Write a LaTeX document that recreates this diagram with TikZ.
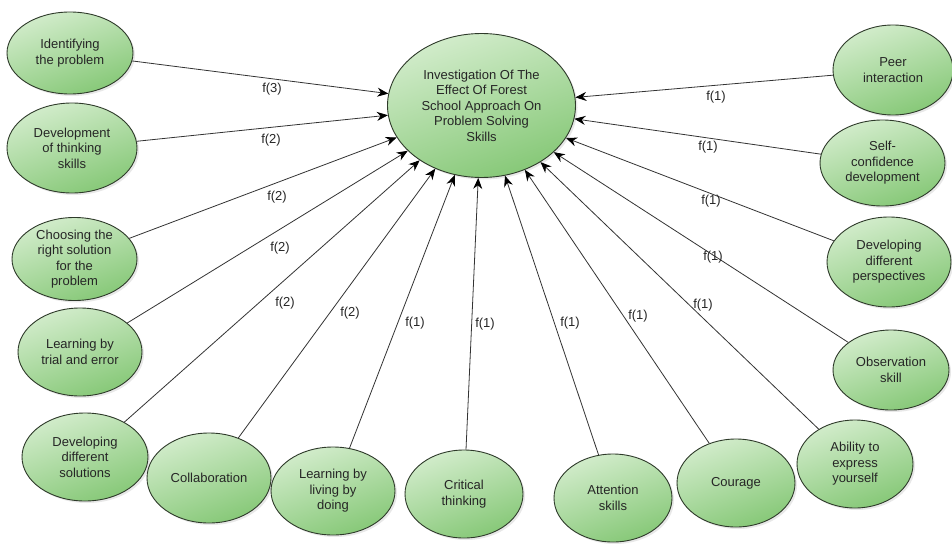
\documentclass[tikz,border=0pt]{standalone}
\usepackage{fontspec}
\setmainfont{Liberation Sans}
\usetikzlibrary{shapes.geometric,arrows.meta,shadows}
\definecolor{nodelight}{HTML}{D2ECCB}
\definecolor{nodedark}{HTML}{86C877}
\definecolor{nodeline}{HTML}{2E3A2A}
\definecolor{edgecol}{HTML}{333333}
\tikzset{
  bub/.style={ellipse, draw=nodeline, line width=0.9pt, inner sep=0pt,
    top color=nodelight, bottom color=nodedark, shading angle=20,
    drop shadow={shadow xshift=2pt, shadow yshift=-2pt, opacity=0.18},
    align=center, font=\fontsize{13}{15.5}\selectfont, text=black!85},
  edge/.style={draw=edgecol, line width=0.8pt, -{Stealth[length=11pt,width=9pt,color=black]}},
  lab/.style={font=\fontsize{13}{15}\selectfont, text=black!85, inner sep=0pt}
}
\begin{document}
\begin{tikzpicture}[x=1pt,y=-1pt]
\fill[white] (0,0) rectangle (952,543);
\useasboundingbox (0,0) rectangle (952,543);
% center
\node[bub, minimum width=188pt, minimum height=144pt] (c) at (481.5,105.5)
  {Investigation Of The\\Effect Of Forest\\School Approach On\\Problem Solving\\Skills};
% left
\node[bub, minimum width=126pt, minimum height=82pt] (n1) at (70,53) {Identifying\\the problem};
\node[bub, minimum width=130pt, minimum height=90pt] (n2) at (72,148) {Development\\of thinking\\skills};
\node[bub, minimum width=125pt, minimum height=83pt] (n3) at (74.5,259) {Choosing the\\right solution\\for the\\problem};
\node[bub, minimum width=124pt, minimum height=88pt] (n4) at (80,352) {Learning by\\trial and error};
\node[bub, minimum width=126pt, minimum height=88pt] (n5) at (85,457) {Developing\\different\\solutions};
% bottom
\node[bub, minimum width=124pt, minimum height=90pt] (n6) at (209,478) {Collaboration};
\node[bub, minimum width=124pt, minimum height=88pt] (n7) at (333,491) {Learning by\\living by\\doing};
\node[bub, minimum width=118pt, minimum height=88pt] (n8) at (464,494) {Critical\\thinking};
\node[bub, minimum width=118pt, minimum height=88pt] (n9) at (613,498) {Attention\\skills};
\node[bub, minimum width=118pt, minimum height=88pt] (n10) at (736,483) {Courage};
\node[bub, minimum width=116pt, minimum height=88pt] (n11) at (855,464) {Ability to\\express\\yourself};
% right
\node[bub, minimum width=120pt, minimum height=90pt] (n12) at (893,70) {Peer\\interaction};
\node[bub, minimum width=125pt, minimum height=86pt] (n13) at (882.5,163) {Self-\\confidence\\development};
\node[bub, minimum width=124pt, minimum height=90pt] (n14) at (889,262) {Developing\\different\\perspectives};
\node[bub, minimum width=116pt, minimum height=80pt] (n15) at (891,370) {Observation\\skill};
% edges
\foreach \n in {n1,n2,n3,n4,n5,n6,n7,n8,n9,n10,n11,n12,n13,n14,n15}
  \draw[edge] (\n) -- (c);
% labels
\node[lab] (l1) at (272,89) {f(3)};
\node[lab] (l2) at (271,140) {f(2)};
\node[lab] (l3) at (277,197) {f(2)};
\node[lab] (l4) at (280,248) {f(2)};
\node[lab] (l5) at (285,303) {f(2)};
\node[lab] (l6) at (350,313) {f(2)};
\node[lab] (l7) at (415,323) {f(1)};
\node[lab] (l8) at (485,324) {f(1)};
\node[lab] (l9) at (570,323) {f(1)};
\node[lab] (l10) at (638,316) {f(1)};
\node[lab] (l11) at (703,305) {f(1)};
\node[lab] (l12) at (713,257) {f(1)};
\node[lab] (l13) at (711,201) {f(1)};
\node[lab] (l14) at (708,147) {f(1)};
\node[lab] (l15) at (716,97) {f(1)};
\end{tikzpicture}
\end{document}
